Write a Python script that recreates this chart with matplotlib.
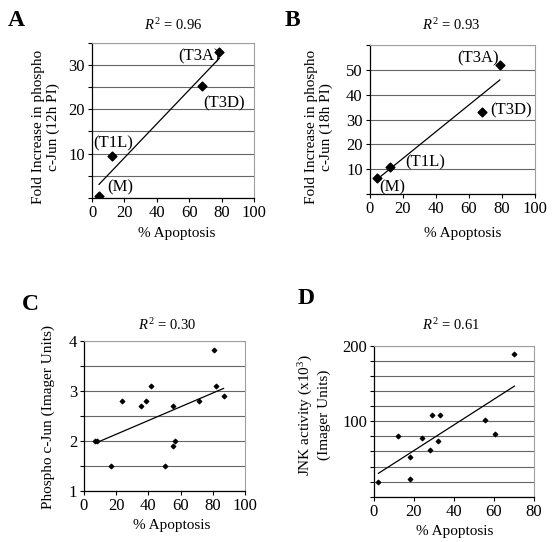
import numpy as np
import matplotlib.pyplot as plt

plt.rcParams['font.family'] = ['Liberation Serif', 'DejaVu Serif']
plt.rcParams['mathtext.fontset'] = 'custom'
plt.rcParams['mathtext.rm'] = 'Liberation Serif'
plt.rcParams['mathtext.it'] = 'Liberation Serif:italic'

# panel A: % apoptosis vs fold increase phospho c-Jun (12h PI)
a_labels = ["(M)", "(T1L)", "(T3D)", "(T3A)"]
a_x = [4.3, 12.5, 67.8, 78.7]
a_y = [0.4, 9.5, 25.2, 33.0]

# panel B: same at 18h PI
b_labels = ["(M)", "(T1L)", "(T3D)", "(T3A)"]
b_x = [4.2, 12.5, 68.1, 78.8]
b_y = [6.4, 10.7, 32.9, 52.1]

# panel C: phospho c-Jun (imager units)
c_x = [7.0, 8.0, 16.8, 23.9, 35.7, 38.6, 41.7, 50.6, 55.6, 55.6, 56.8, 71.6, 80.5, 81.8, 86.7]
c_y = [2.0, 2.0, 1.5, 2.8, 2.7, 2.8, 3.1, 1.5, 2.7, 1.9, 2.0, 2.8, 3.82, 3.1, 2.9]

# panel D: JNK activity
d_x = [2.3, 12.3, 18.3, 18.3, 24.3, 28.3, 29.3, 32.3, 33.3, 55.5, 60.5, 70.3]
d_y = [19.6, 80.4, 53.3, 23.1, 77.8, 62.2, 108, 74.2, 108, 101.3, 83.6, 189.3]

r2_text = ["0.96", "0.93", "0.30", "0.61"]

FS = 12      # ticks / point labels
LFS = 11     # axis titles
W, H = 558, 542

fig = plt.figure(figsize=(5.58, 5.42), dpi=100)


def px(x, y):
    # pixel position (from top-left) -> figure fraction
    return x / W, 1 - y / H


def style_axes(ax, ylim, grid_step, yticks, xlim, xticks):
    ax.set_xlim(*xlim)
    ax.set_ylim(*ylim)
    ax.set_xticks(xticks)
    ax.set_yticks(yticks)
    minor = np.arange(ylim[0], ylim[1] + 1e-9, grid_step)
    ax.set_yticks(minor, minor=True)
    ax.grid(True, which='both', axis='y', color='#666666', lw=0.8)
    ax.set_axisbelow(True)
    for s in ['top', 'right']:
        ax.spines[s].set_color('#a0a0a0')
        ax.spines[s].set_linewidth(0.8)
    for s in ['left', 'bottom']:
        ax.spines[s].set_color('black')
        ax.spines[s].set_linewidth(0.9)
    ax.tick_params(which='both', axis='y', length=3, width=0.8, labelsize=FS, pad=2)
    ax.tick_params(axis='x', length=3, width=0.8, labelsize=FS, pad=2)
    ax.tick_params(which='minor', axis='y', labelleft=False)


def trend(ax, x, y):
    k, b = np.polyfit(x, y, 1)
    xs = np.array([min(x), max(x)])
    ax.plot(xs, k * xs + b, color='black', lw=0.9, zorder=3)


def panel_text(letter, lpos, r2, rpos, ylab, ypos, xpos):
    fig.text(*px(*lpos), letter, fontsize=17, fontweight='bold', ha='center', va='center')
    fig.text(*px(*rpos), "$R^2$ = " + r2, fontsize=10.5, ha='center', va='center')
    fig.text(*px(*ypos), ylab, fontsize=LFS, rotation=90, ha='center', va='center')
    fig.text(*px(*xpos), "% Apoptosis", fontsize=LFS, ha='center', va='center')


# ---- A
axA = fig.add_axes([0.165, 0.635, 0.290, 0.286])
style_axes(axA, (0, 35), 5, [10, 20, 30], (0, 100), range(0, 101, 20))
axA.scatter(a_x, a_y, marker='D', s=20, color='black', zorder=4)
trend(axA, a_x, a_y)
a_off = [(5, 1.9), (-11.9, 2.7), (1.2, -3.8), (-25.7, -1.1)]
for lab, x, y, (dx, dy) in zip(a_labels, a_x, a_y, a_off):
    axA.text(x + dx, y + dy, lab, fontsize=FS, ha='left', va='center')
panel_text("A", (16, 21), r2_text[0], (173, 25),
           "Fold Increase in phospho\nc-Jun (12h PI)", (46, 127), (177, 233))

# ---- B
axB = fig.add_axes([0.6625, 0.642, 0.296, 0.275])
style_axes(axB, (0, 60), 10, [10, 20, 30, 40, 50], (0, 100), range(0, 101, 20))
axB.scatter(b_x, b_y, marker='D', s=20, color='black', zorder=4)
trend(axB, b_x, b_y)
b_off = [(1.4, -3.9), (9.3, 1.9), (4.8, 0.9), (-25.9, 2.5)]
for lab, x, y, (dx, dy) in zip(b_labels, b_x, b_y, b_off):
    axB.text(x + dx, y + dy, lab, fontsize=FS, ha='left', va='center')
panel_text("B", (292, 20), r2_text[1], (451, 25),
           "Fold Increase in phospho\nc-Jun (18h PI)", (319, 127), (463, 233))

# ---- C
axC = fig.add_axes([0.1505, 0.0941, 0.2885, 0.2773])
style_axes(axC, (1, 4), 0.5, [1, 2, 3, 4], (0, 100), range(0, 101, 20))
axC.scatter(c_x, c_y, marker='D', s=5, color='black', zorder=4)
trend(axC, c_x, c_y)
panel_text("C", (30, 305), r2_text[2], (167, 325),
           "Phospho c-Jun (Imager Units)", (48, 417), (172, 525))

# ---- D
axD = fig.add_axes([0.670, 0.0836, 0.2867, 0.278])
style_axes(axD, (0, 200), 20, [100, 200], (0, 80), range(0, 81, 20))
axD.scatter(d_x, d_y, marker='D', s=5, color='black', zorder=4)
trend(axD, d_x, d_y)
panel_text("D", (306, 299), r2_text[3], (451, 325),
           "JNK activity (x10$^3$)\n(Imager Units)", (314, 415), (455, 531))

fig.savefig("out.png", dpi=100)
